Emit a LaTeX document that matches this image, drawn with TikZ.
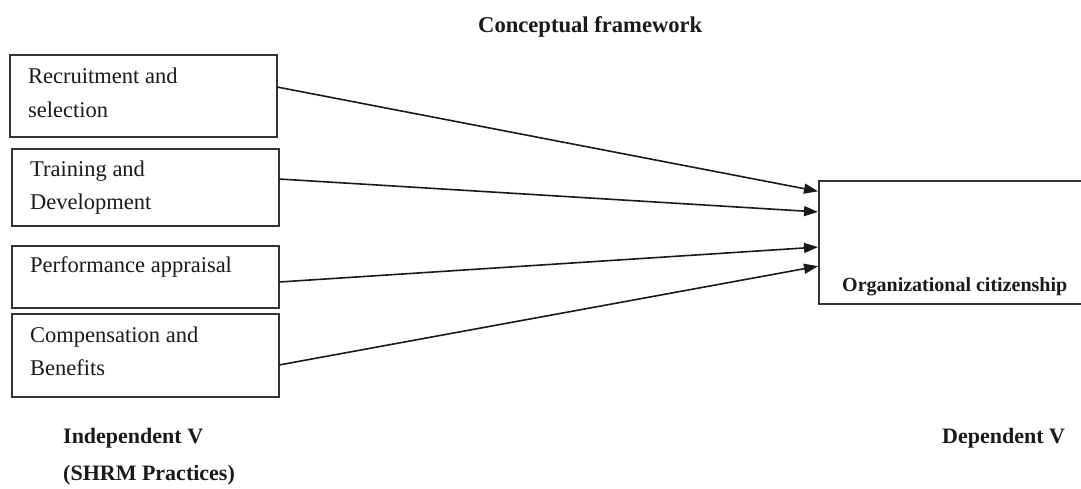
\documentclass[tikz,border=0pt]{standalone}
\usepackage{fontspec}
\setmainfont{Liberation Serif}
\usetikzlibrary{arrows.meta,positioning}
\definecolor{ink}{HTML}{1A1A1A}
\definecolor{edge}{HTML}{333333}
\tikzset{
  box/.style={draw=edge, line width=2pt, rectangle, anchor=north west, inner sep=0pt, outer sep=0pt},
  lbl/.style={anchor=base west, inner sep=0pt, text=ink, font=\fontsize{22.5}{26}\selectfont},
  blbl/.style={anchor=base west, inner sep=0pt, text=ink, font=\fontsize{22}{26}\selectfont\bfseries},
  conn/.style={draw=ink, line width=1.6pt, -{Triangle[length=14pt,width=10pt]}, shorten >=1pt}
}
\begin{document}
\begin{tikzpicture}[x=1pt,y=-1pt]
\clip (0,0) rectangle (1081,488);
\fill[white] (0,0) rectangle (1081,488);
% left boxes
\node[box, minimum width=267pt, minimum height=82pt] (b1) at (10,55) {};
\node[box, minimum width=267pt, minimum height=77pt] (b2) at (12,149) {};
\node[box, minimum width=267pt, minimum height=62pt] (b3) at (12,246) {};
\node[box, minimum width=267pt, minimum height=83pt] (b4) at (12,314) {};
% right box (runs past the right margin)
\node[box, minimum width=280pt, minimum height=123pt] (out) at (819,181) {};
% texts
\node[lbl] (t1a) at (28,83) {Recruitment and};
\node[lbl] (t1b) at (28,117) {selection};
\node[lbl] (t2a) at (30,176) {Training and};
\node[lbl] (t2b) at (30,209) {Development};
\node[lbl] (t3) at (30,272) {Performance appraisal};
\node[lbl] (t4a) at (30,342) {Compensation and};
\node[lbl] (t4b) at (30,375) {Benefits};
\node[blbl, font=\fontsize{20}{24}\selectfont\bfseries] (tout) at (842,291) {Organizational citizenship};
\node[blbl, font=\fontsize{22.6}{26}\selectfont\bfseries] (title) at (478,32) {Conceptual framework};
\node[blbl] (iv) at (63,443) {Independent V};
\node[blbl] (shrm) at (63,480) {(SHRM Practices)};
\node[blbl] (dv) at (942,443) {Dependent V};
% connectors
\draw[conn] ([yshift=9pt]b1.east) -- ([yshift=51pt]out.west);
\draw[conn] ([yshift=8.5pt]b2.east) -- ([yshift=30.5pt]out.west);
\draw[conn] ([yshift=-5pt]b3.east) -- ([yshift=-4.5pt]out.west);
\draw[conn] ([yshift=-9.5pt]b4.east) -- ([yshift=-23.5pt]out.west);
\end{tikzpicture}
\end{document}
